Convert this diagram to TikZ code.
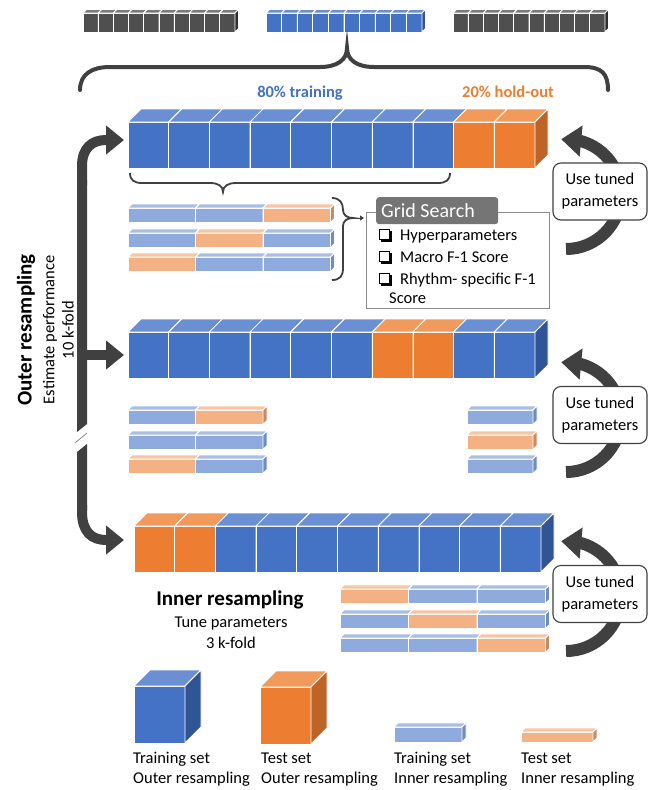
\documentclass[tikz,border=0pt]{standalone}
\usepackage{fontspec}
\setmainfont{Carlito}
\usetikzlibrary{arrows.meta,bending}
\definecolor{bF}{HTML}{4472C4}\definecolor{bT}{HTML}{6A8FD2}\definecolor{bS}{HTML}{2F5597}
\definecolor{oF}{HTML}{ED7D31}\definecolor{oT}{HTML}{F19A5C}\definecolor{oS}{HTML}{BE6427}
\definecolor{lbF}{HTML}{8FAADC}\definecolor{lbT}{HTML}{A8BEE6}\definecolor{lbS}{HTML}{6F8CC2}
\definecolor{loF}{HTML}{F4B183}\definecolor{loT}{HTML}{F8C5A2}\definecolor{loS}{HTML}{C98C62}
\definecolor{gF}{HTML}{4F4F4F}\definecolor{gT}{HTML}{7A7A7A}\definecolor{gS}{HTML}{2E2E2E}
\definecolor{arr}{HTML}{404040}
\definecolor{gbox}{HTML}{8C8C8C}
\definecolor{ghd}{HTML}{757575}
% #1 x0, #2 y0 (top of front face), #3 width, #4 height, #5 depth, #6 colour prefixes
\newcommand\cuberow[6]{%
  \foreach \col [count=\i from 0] in {#6}{%
    \pgfmathsetmacro\xa{#1+\i*#3}%
    \filldraw[fill=\col F, draw=white, line width=0.8pt] (\xa,#2) rectangle ++(#3,#4);
    \filldraw[fill=\col T, draw=white, line width=0.8pt] (\xa,#2) -- ++(#5,-#5) -- ++(#3,0) -- ++(-#5,#5) -- cycle;
    \filldraw[fill=\col S, draw=white, line width=0.8pt] (\xa+#3,#2) -- ++(#5,-#5) -- ++(0,#4) -- ++(-#5,#5) -- cycle;
  }}
\newcommand\chkbox[2]{%
  \fill[black] (#1-4,#2-4) rectangle (#1+6.5,#2+6.5);
  \filldraw[fill=white,draw=black,line width=1.1pt] (#1-5.5,#2-5.5) rectangle (#1+4.8,#2+4.8);}
\begin{document}
\begin{tikzpicture}[x=1pt,y=-1pt,
  lbl/.style={inner sep=0pt, font=\fontsize{16.5}{22}\selectfont},
  hd/.style={inner sep=0pt, font=\bfseries\fontsize{21}{25}\selectfont},
  pct/.style={inner sep=0pt, font=\bfseries\fontsize{16.5}{20}\selectfont},
  tuned/.style={draw=arr, line width=1.1pt, rounded corners=8pt, fill=white, minimum width=94pt, minimum height=57pt, align=center, inner sep=0pt, font=\fontsize{16.5}{22}\selectfont},
  bigarrow/.style={draw=arr, line width=10pt, -{Triangle[width=28pt,length=18pt]}},
  looparrow/.style={draw=arr, line width=12pt, -{Triangle[width=30pt,length=20pt]}},
  brace/.style={draw=arr, line width=1.8pt},
]
\useasboundingbox (0,0) rectangle (648,790);
\fill[white] (0,0) rectangle (648,790);

% top data rows
\cuberow{83}{13}{15.2}{19}{3.5}{g,g,g,g,g,g,g,g,g,g}
\cuberow{266}{13}{15.6}{19}{3.5}{b,b,b,b,b,b,b,b,b,b}
\cuberow{453}{13}{15.2}{19}{3.5}{g,g,g,g,g,g,g,g,g,g}

% big brace
\draw[arr, line width=4pt, line cap=round] (80,90) .. controls (80,74) and (92,67) .. (110,67) -- (320,67) .. controls (337,67) and (347,60) .. (347,48) .. controls (347,60) and (357,67) .. (374,67) -- (584,67) .. controls (602,67) and (608,74) .. (608,90);

\node[pct, text=bF, anchor=base] (tr80) at (300,97.5) {80\% training};
\node[pct, text=oF, anchor=base] (ho20) at (508,97.5) {20\% hold-out};

% loop arrows (behind boxes)
\draw[looparrow] (566,249) arc[start angle=90, end angle=-95, radius=55];
\draw[looparrow] (566,472) arc[start angle=90, end angle=-95, radius=55];
\draw[looparrow] (566,651) arc[start angle=90, end angle=-95, radius=55];

% row 1
\cuberow{128}{122}{40.7}{46}{13}{b,b,b,b,b,b,b,b,o,o}
\draw[brace] (130,173) .. controls (130,180) and (134,183) .. (142,183) -- (210,183) .. controls (218,183) and (223,186) .. (223,192) .. controls (223,186) and (228,183) .. (236,183) -- (438,183) .. controls (446,183) and (450,180) .. (450,173);

% inner bars group 1
\cuberow{128}{208}{67.5}{14.5}{4}{lb,lb,lo}
\cuberow{128}{233}{67.5}{14.5}{4}{lb,lo,lb}
\cuberow{128}{257}{67.5}{14.5}{4}{lo,lb,lb}
\draw[brace] (332,198) .. controls (340,198) and (343,203) .. (343,210) .. controls (343,215) and (347,218) .. (353,218) .. controls (347,218) and (343,221) .. (343,226) -- (343,268) .. controls (343,276) and (340,280) .. (332,280);

% grid search box
\node[draw=gbox, line width=1.4pt, minimum width=183pt, minimum height=96pt, anchor=north west, inner sep=0pt] (gs) at (366,212) {};
\draw[arr, line width=0.8pt, -{Triangle[width=5pt,length=4pt]}] (353,218) -- (364,218);
\node[fill=ghd, rounded corners=3pt, minimum width=122pt, minimum height=27pt, anchor=north west, inner sep=0pt] (gh) at (376,197) {};
\node[inner sep=0pt, anchor=base west, text=white, font=\fontsize{20}{24}\selectfont] (ght) at (381,217) {Grid Search};
\chkbox{385}{235}
\chkbox{385}{257}
\chkbox{385}{279}
\node[lbl, anchor=base west] (i1) at (400,240.5) {Hyperparameters};
\node[lbl, anchor=base west] (i2) at (400,262.5) {Macro F-1 Score};
\node[lbl, anchor=base west] (i3) at (400,284.5) {Rhythm- specific F-1};
\node[lbl, anchor=base west] (i4) at (389,303.5) {Score};

% row 2
\cuberow{128}{332}{40.7}{46}{13}{b,b,b,b,b,b,o,o,b,b}
\cuberow{128}{410}{67.5}{14.5}{4}{lb,lo}
\cuberow{128}{435}{67.5}{14.5}{4}{lb,lb}
\cuberow{128}{459}{67.5}{14.5}{4}{lo,lb}
\cuberow{467}{410}{66}{14.5}{4}{lb}
\cuberow{467}{435}{66}{14.5}{4}{lo}
\cuberow{467}{459}{66}{14.5}{4}{lb}

% row 3
\cuberow{134}{526}{40.7}{46}{13}{o,o,b,b,b,b,b,b,b,b}
\cuberow{340}{589}{68.5}{14.5}{4}{lo,lb,lb}
\cuberow{340}{614}{68.5}{14.5}{4}{lb,lo,lb}
\cuberow{340}{638}{68.5}{14.5}{4}{lb,lb,lo}

% tuned boxes
\node[tuned] (t1) at (600,191.5) {Use tuned\\parameters};
\node[tuned] (t2) at (600,415) {Use tuned\\parameters};
\node[tuned] (t3) at (600,594) {Use tuned\\parameters};

% outer resampling bracket
\fill[arr] (77,180) -- (87,180) -- (87,424) -- (77,432) -- cycle;
\draw[bigarrow] (82,185) -- (82,166) .. controls (82,148) and (92,140) .. (106,140) -- (124,140);
\draw[bigarrow] (82,355) -- (124,355);
\fill[arr] (77,452) -- (87,444) -- (87,510) -- (77,510) -- cycle;
\draw[bigarrow] (82,505) -- (82,512) .. controls (82,532) and (92,540) .. (106,540) -- (124,540);
\draw[gbox, line width=0.8pt] (75,443) -- (87,433);

\node[hd, rotate=90] (outer) at (26,330) {Outer resampling};
\node[lbl, rotate=90] (est) at (50,330) {Estimate performance};
\node[lbl, rotate=90] (k10) at (68,330) {10 k-fold};

\node[hd, anchor=base] (inner) at (230,605) {Inner resampling};
\node[lbl, anchor=base] (tune) at (231,627.5) {Tune parameters};
\node[lbl, anchor=base] (k3) at (231,648.5) {3 k-fold};

% legend
\cuberow{134}{686}{51}{57}{16}{b}
\cuberow{260}{687}{51}{57}{16}{o}
\cuberow{394}{727}{68}{15}{4}{lb}
\cuberow{521}{732}{72}{10}{4}{lo}
\node[lbl, anchor=base west] (l1a) at (133,763.5) {Training set};
\node[lbl, anchor=base west] (l1b) at (133,783.5) {Outer resampling};
\node[lbl, anchor=base west] (l2a) at (261,763.5) {Test set};
\node[lbl, anchor=base west] (l2b) at (261,783.5) {Outer resampling};
\node[lbl, anchor=base west] (l3a) at (394,763.5) {Training set};
\node[lbl, anchor=base west] (l3b) at (394,783.5) {Inner resampling};
\node[lbl, anchor=base west] (l4a) at (521,763.5) {Test set};
\node[lbl, anchor=base west] (l4b) at (521,783.5) {Inner resampling};
\end{tikzpicture}
\end{document}
